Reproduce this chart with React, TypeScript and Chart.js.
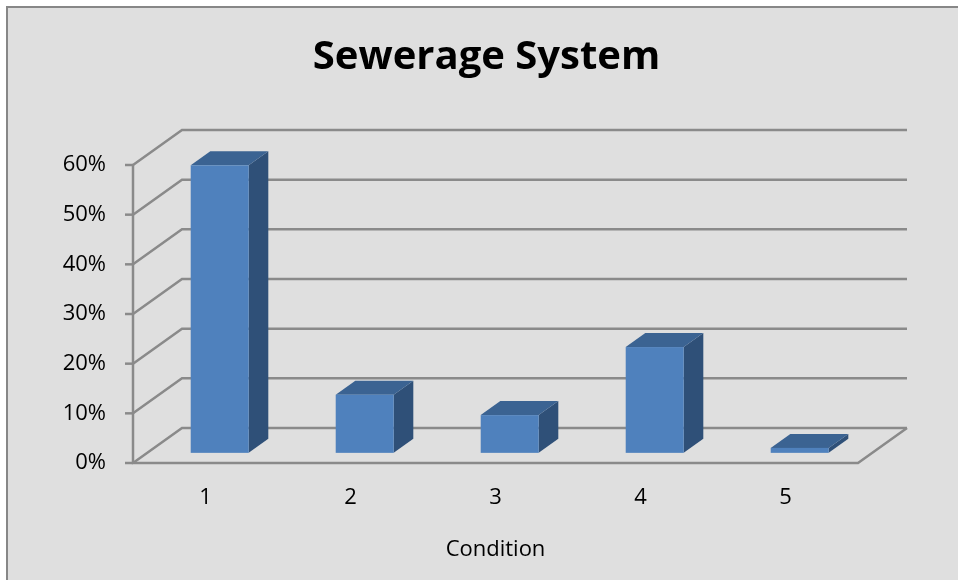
import React, { useEffect, useRef } from 'react';
import { Chart, registerables } from 'chart.js';

Chart.register(...registerables);

const categories = ['1', '2', '3', '4', '5'];
const values = [57.9, 11.7, 7.6, 21.3, 1.0];
const yTicks = [0, 10, 20, 30, 40, 50, 60];
const chartTitle = 'Sewerage System';
const xAxisTitle = 'Condition';

const FONT = "'Open Sans', 'Noto Sans', sans-serif";
const DEPTH_X = 49;
const DEPTH_Y = -35;
const BAR_FRONT = 0.29;
const BAR_BACK = 0.69;

const excel3d = {
  id: 'excel3d',
  beforeDraw(chart: any) {
    const { ctx, width, height } = chart;
    ctx.save();
    ctx.fillStyle = '#ffffff';
    ctx.fillRect(0, 0, width, height);
    ctx.fillStyle = '#dfdfdf';
    ctx.fillRect(7, 7, width, height);
    ctx.strokeStyle = '#878787';
    ctx.lineWidth = 2;
    ctx.beginPath();
    ctx.moveTo(7, height + 5);
    ctx.lineTo(7, 7);
    ctx.lineTo(width + 5, 7);
    ctx.stroke();
    ctx.restore();
  },
  beforeDatasetsDraw(chart: any) {
    const { ctx, scales } = chart;
    const x = scales.x;
    const y = scales.y;
    const left = x.left;
    const right = x.right;
    ctx.save();
    ctx.strokeStyle = '#8a8a8a';
    ctx.lineWidth = 2.5;
    ctx.lineJoin = 'miter';
    yTicks.forEach((v) => {
      const py = y.getPixelForValue(v);
      ctx.beginPath();
      ctx.moveTo(left, py);
      ctx.lineTo(left + DEPTH_X, py + DEPTH_Y);
      ctx.lineTo(right + DEPTH_X, py + DEPTH_Y);
      ctx.stroke();
      ctx.beginPath();
      ctx.moveTo(left - 8, py);
      ctx.lineTo(left, py);
      ctx.stroke();
    });
    const y0 = y.getPixelForValue(yTicks[0]);
    const yTop = y.getPixelForValue(yTicks[yTicks.length - 1]);
    ctx.beginPath();
    ctx.moveTo(left, yTop);
    ctx.lineTo(left, y0);
    ctx.lineTo(right, y0);
    ctx.lineTo(right + DEPTH_X, y0 + DEPTH_Y);
    ctx.stroke();
    ctx.restore();
  },
  afterDatasetsDraw(chart: any) {
    const { ctx } = chart;
    const meta = chart.getDatasetMeta(0);
    const fx = BAR_FRONT * DEPTH_X;
    const fy = BAR_FRONT * DEPTH_Y;
    const bx = (BAR_BACK - BAR_FRONT) * DEPTH_X;
    const by = (BAR_BACK - BAR_FRONT) * DEPTH_Y;
    ctx.save();
    meta.data.forEach((el: any) => {
      const p = el.getProps(['x', 'y', 'base', 'width'], true);
      const l = p.x - p.width / 2 + fx;
      const r = p.x + p.width / 2 + fx;
      const t = p.y + fy;
      const b = p.base + fy;
      // side face
      ctx.fillStyle = '#2f5078';
      ctx.beginPath();
      ctx.moveTo(r, t);
      ctx.lineTo(r + bx, t + by);
      ctx.lineTo(r + bx, b + by);
      ctx.lineTo(r, b);
      ctx.closePath();
      ctx.fill();
      // top face
      ctx.fillStyle = '#3b6392';
      ctx.beginPath();
      ctx.moveTo(l, t);
      ctx.lineTo(l + bx, t + by);
      ctx.lineTo(r + bx, t + by);
      ctx.lineTo(r, t);
      ctx.closePath();
      ctx.fill();
      // front face
      ctx.fillStyle = '#4f81bd';
      ctx.fillRect(l, t, r - l, b - t);
    });
    ctx.restore();
  },
};

export default function App() {
  const ref = useRef<HTMLCanvasElement>(null);
  useEffect(() => {
    document.body.style.margin = '0';
    const canvas = ref.current;
    if (!canvas) return;
    const chart = new Chart(canvas, {
      type: 'bar',
      data: {
        labels: categories,
        datasets: [
          {
            data: values,
            backgroundColor: 'rgba(0,0,0,0)',
            borderWidth: 0,
            categoryPercentage: 1,
            barPercentage: 0.4,
            yAxisID: 'y',
          },
        ],
      },
      options: {
        animation: false,
        responsive: false,
        maintainAspectRatio: false,
        devicePixelRatio: 1,
        events: [],
        layout: { padding: { left: 15, right: 0, top: 0, bottom: 0 } },
        plugins: {
          legend: { display: false },
          tooltip: { enabled: false },
          title: {
            display: true,
            text: chartTitle,
            color: '#000000',
            font: { family: FONT, size: 40, weight: 'bold' },
            padding: { top: 34, bottom: 83 },
          },
        },
        scales: {
          x: {
            type: 'category',
            offset: true,
            grid: { display: false, drawTicks: false, tickLength: 0 },
            border: { display: false },
            ticks: { color: '#000000', font: { family: FONT, size: 22 }, padding: 22 },
            title: {
              display: true,
              text: xAxisTitle,
              color: '#000000',
              font: { family: FONT, size: 22 },
              padding: { top: 0, bottom: 17 },
            },
            afterFit(s: any) {
              s.height = 117;
            },
          },
          y: {
            position: 'left',
            min: yTicks[0],
            max: yTicks[yTicks.length - 1],
            grid: { display: false, drawTicks: false, tickLength: 0 },
            border: { display: false },
            ticks: {
              color: '#000000',
              font: { family: FONT, size: 22 },
              padding: 27,
              stepSize: 10,
              callback: (v: any) => `${v}%`,
            },
            afterBuildTicks(s: any) {
              s.ticks = yTicks.map((v) => ({ value: v }));
            },
            afterFit(s: any) {
              s.width = 118;
            },
          },
          depth: {
            type: 'linear',
            position: 'right',
            display: true,
            grid: { display: false, drawTicks: false },
            border: { display: false },
            ticks: { display: false },
            afterFit(s: any) {
              s.width = 100;
            },
          },
        },
      },
      plugins: [excel3d],
    } as any);
    return () => chart.destroy();
  }, []);
  return <canvas ref={ref} width={958} height={580} style={{ display: 'block' }} />;
}
